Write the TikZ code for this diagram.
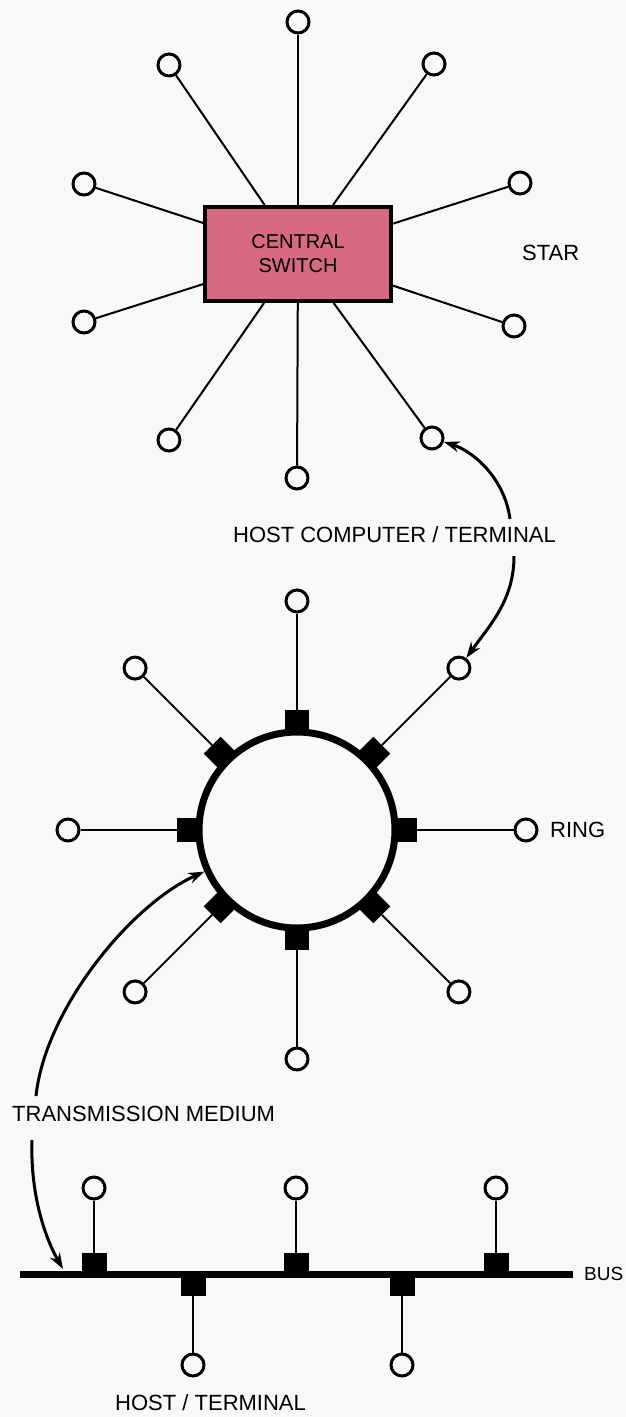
\documentclass[tikz,border=0pt]{standalone}
\usepackage{fontspec}
\setmainfont{Liberation Sans}
\usetikzlibrary{arrows.meta}

\definecolor{switchpink}{RGB}{214,106,126}
\definecolor{paper}{RGB}{248,248,246}

\begin{document}
\begin{tikzpicture}[
    % one unit is one pixel of the sheet, y grows downwards
    x=1pt, y=-1pt,
    % thin connecting lines
    wire/.style={line width=2pt},
    % small circles: hosts and terminals
    host/.style={circle, draw, line width=3pt, minimum size=22pt, inner sep=0pt},
    % black interface boxes
    tap/.style={fill=black, minimum width=25pt, minimum height=22pt, inner sep=0pt},
    % labels
    lab/.style={font=\fontsize{22}{26}\selectfont, inner sep=0pt},
    % curved pointers
    pointer/.style={line width=3pt, -{Stealth[length=16pt,width=11pt]}}
]

    % sheet
    \useasboundingbox (0,0) rectangle (625,1417);
    \fill[paper] (0,0) rectangle (625,1417);

    % STAR: central switch with the hosts around it
    \node[draw, line width=4pt, fill=switchpink, minimum width=186pt, minimum height=94pt,
          align=center, font=\fontsize{20}{24}\selectfont] (sw) at (298,254) {CENTRAL\\SWITCH};
    \foreach \sx/\sy [count=\i] in {298/22, 434/64, 520/183, 514/326, 432/438,
                                    297/478, 169/440, 84/322, 84/184, 169/65}{
        \node[host] (s\i) at (\sx,\sy) {};
        \draw[wire] (s\i) -- (sw);
    }
    \node[lab, anchor=west] (star) at (522,253) {STAR};

    % RING: loop with eight interfaces
    \node[circle, draw, line width=7pt, minimum size=196pt, inner sep=0pt] (ring) at (297,830) {};
    \foreach \a in {0,45,...,315}{
        \node[tap, minimum width=24pt, minimum height=24pt, rotate=\a] (t\a) at ([shift={(\a:108)}]ring.center) {};
        \node[host] (r\a) at ([shift={(\a:229)}]ring.center) {};
        \draw[wire] (r\a) -- (t\a);
    }
    \node[lab, anchor=west] (ringlab) at (550,830) {RING};

    % host computer label and its two pointers
    \node[lab, anchor=east] (hostcomp) at (556,535) {HOST COMPUTER / TERMINAL};
    \coordinate (up1) at (510,519);
    \coordinate (down1) at (514,556);
    \draw[pointer] (up1) .. controls (505,480) and (475,452) .. (s5);
    \draw[pointer] (down1) .. controls (514,600) and (490,625) .. (r315);

    % BUS: one line, hosts above and below
    \coordinate (busL) at (20,1274);
    \coordinate (busR) at (573,1274);
    \draw[line width=7pt] (busL) -- (busR);
    \node[lab, anchor=west, font=\fontsize{19}{23}\selectfont] (buslab) at (584,1274) {BUS};
    \foreach \bx [count=\i] in {94,296,496}{
        \node[tap] (bt\i) at (\bx,1264) {};
        \node[host] (bh\i) at (\bx,1188) {};
        \draw[wire] (bh\i) -- (bt\i);
    }
    \foreach \bx [count=\i] in {193,402}{
        \node[tap] (bb\i) at (\bx,1285) {};
        \node[host] (bl\i) at (\bx,1365) {};
        \draw[wire] (bl\i) -- (bb\i);
    }
    \node[lab, anchor=west] (hostterm) at (115,1403) {HOST / TERMINAL};

    % transmission medium label and its two pointers
    \node[lab, anchor=west] (medium) at (12,1114) {TRANSMISSION MEDIUM};
    \coordinate (up2) at (36,1096);
    \coordinate (down2) at (32,1140);
    \coordinate (bushit) at (63,1269);
    \draw[pointer] (up2) .. controls (45,1010) and (130,905) .. (ring);
    \draw[pointer] (down2) .. controls (30,1200) and (48,1243) .. (bushit);

\end{tikzpicture}
\end{document}
